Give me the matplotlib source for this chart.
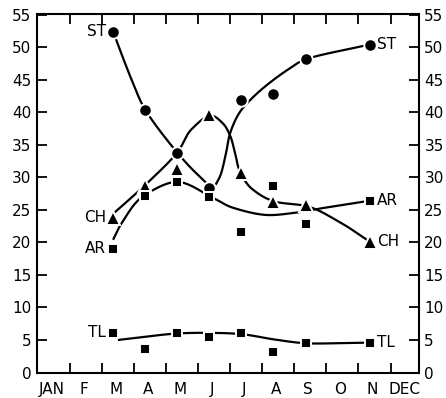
import matplotlib
matplotlib.use("Agg")
import matplotlib.pyplot as plt
import numpy as np

# month labels along the bottom
month_labels = ["JAN", "F", "M", "A", "M", "J", "J", "A", "S", "O", "N", "DEC"]

# measured points (month number, value)
st_months = [3, 4, 5, 6, 7, 8, 9, 11]
st_values = [52.4, 40.4, 33.8, 28.4, 41.9, 42.8, 48.2, 50.4]

ch_months = [3, 4, 5, 6, 7, 8, 9, 11]
ch_values = [23.8, 28.6, 31.2, 39.5, 30.7, 26.2, 25.8, 20.1]

ar_months = [3, 4, 5, 6, 7, 8, 9, 11]
ar_values = [19.0, 27.1, 29.3, 27.0, 21.6, 28.6, 22.8, 26.4]

tl_months = [3, 4, 5, 6, 7, 8, 9, 11]
tl_values = [6.1, 3.6, 6.1, 5.5, 6.1, 3.2, 4.5, 4.6]

# hand-drawn fitted curves (knots)
st_curve_x = [3.0, 3.22, 3.62, 4.0, 5.0, 5.6, 6.1, 6.3, 6.5, 6.65, 6.95, 7.3, 7.8, 8.5, 9.05, 11.0]
st_curve_y = [52.4, 49.5, 44.5, 40.4, 33.8, 30.6, 28.6, 29.8, 33.2, 36.8, 40.0, 42.0, 44.2, 46.7, 48.2, 50.4]

ch_curve_x = [3.05, 4.0, 5.0, 5.45, 6.05, 6.4, 6.64, 6.8, 6.95, 7.36, 8.1, 9.0, 10.0, 11.0]
ch_curve_y = [24.6, 28.8, 33.8, 37.4, 39.5, 38.4, 36.5, 33.8, 31.0, 28.1, 26.2, 25.6, 23.3, 20.1]

ar_curve_x = [3.0, 3.3, 4.0, 5.0, 6.05, 6.25, 6.75, 7.8, 8.6, 9.45, 11.0]
ar_curve_y = [20.4, 23.2, 27.3, 29.3, 27.0, 26.5, 25.3, 24.2, 24.5, 25.2, 26.4]

tl_curve_x = [3.15, 4.0, 5.0, 6.0, 7.0, 8.0, 9.0, 10.0, 11.0]
tl_curve_y = [5.0, 5.5, 6.0, 6.1, 5.9, 5.1, 4.5, 4.5, 4.6]


def smooth(xs, ys, n=30):
    # centripetal Catmull-Rom spline through the knots
    p = np.column_stack([xs, ys]).astype(float)
    p = np.vstack([2 * p[0] - p[1], p, 2 * p[-1] - p[-2]])
    out = []
    for i in range(1, len(p) - 2):
        p0, p1, p2, p3 = p[i - 1], p[i], p[i + 1], p[i + 2]
        t0 = 0.0
        t1 = t0 + np.linalg.norm(p1 - p0) ** 0.5
        t2 = t1 + np.linalg.norm(p2 - p1) ** 0.5
        t3 = t2 + np.linalg.norm(p3 - p2) ** 0.5
        t = np.linspace(t1, t2, n)[:, None]
        a1 = (t1 - t) / (t1 - t0) * p0 + (t - t0) / (t1 - t0) * p1
        a2 = (t2 - t) / (t2 - t1) * p1 + (t - t1) / (t2 - t1) * p2
        a3 = (t3 - t) / (t3 - t2) * p2 + (t - t2) / (t3 - t2) * p3
        b1 = (t2 - t) / (t2 - t0) * a1 + (t - t0) / (t2 - t0) * a2
        b2 = (t3 - t) / (t3 - t1) * a2 + (t - t1) / (t3 - t1) * a3
        out.append((t2 - t) / (t2 - t1) * b1 + (t - t1) / (t2 - t1) * b2)
    out = np.vstack(out)
    return out[:, 0], out[:, 1]


fig = plt.figure(figsize=(4.46, 3.98), dpi=100)
ax = fig.add_axes([0.083, 0.064, 0.856, 0.901])

lw = 1.6
for cx, cy in [(st_curve_x, st_curve_y), (ch_curve_x, ch_curve_y),
               (ar_curve_x, ar_curve_y), (tl_curve_x, tl_curve_y)]:
    sx, sy = smooth(cx, cy)
    ax.plot(sx, sy, color="black", lw=lw, solid_capstyle="butt", zorder=2)

mk = dict(color="black", linestyle="none", mec="white", mew=1.4, zorder=3)
ax.plot(st_months, st_values, marker="o", ms=9, **mk)
ax.plot(ch_months, ch_values, marker="^", ms=10, **mk)
ax.plot(ar_months, ar_values, marker="s", ms=7.5, **mk)
ax.plot(tl_months, tl_values, marker="s", ms=7, **mk)

# series names at both ends
fs = 11
for name, vals in [("ST", st_values), ("CH", ch_values), ("AR", ar_values), ("TL", tl_values)]:
    ax.text(st_months[0] - 0.22, vals[0], name, ha="right", va="center", fontsize=fs)
    ax.text(st_months[-1] + 0.22, vals[-1], name, ha="left", va="center", fontsize=fs)

ax.set_xlim(0.63, 12.53)
ax.set_ylim(0, 55.1)

ax.set_xticks([m + 0.65 for m in range(1, 12)])
ax.set_xticklabels([])
ax.set_xticks([m + 0.08 for m in range(1, 13)], minor=True)
ax.set_xticklabels(month_labels, minor=True, fontsize=fs)
ax.tick_params(axis="x", which="major", direction="in", length=7, width=1.3, top=True)
ax.tick_params(axis="x", which="minor", length=0, pad=7)

yt = list(range(0, 56, 5))
ax.set_yticks(yt)
ax.set_yticklabels([str(v) for v in yt], fontsize=fs)
ax.tick_params(axis="y", direction="in", length=7, width=1.3, right=True,
               labelright=True, pad=4)

for sp in ax.spines.values():
    sp.set_linewidth(1.5)

fig.savefig("out.png", dpi=100)
